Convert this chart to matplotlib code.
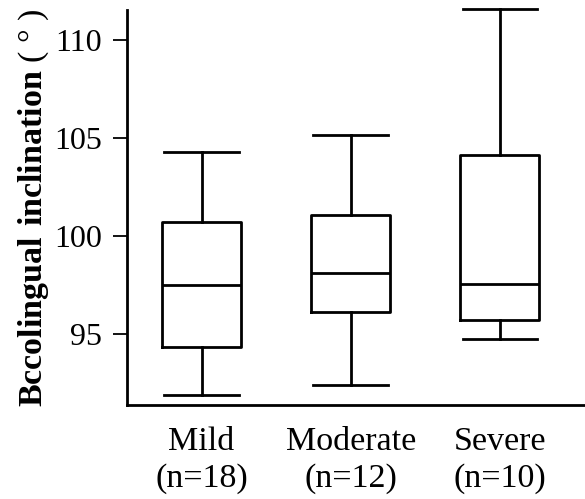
import matplotlib
matplotlib.use("Agg")
import matplotlib.pyplot as plt

groups = ["Mild\n(n=18)", "Moderate\n(n=12)", "Severe\n(n=10)"]
whislo = [91.85, 92.36, 94.71]
q1 = [94.30, 96.09, 95.69]
med = [97.47, 98.09, 97.53]
q3 = [100.70, 101.05, 104.12]
whishi = [104.27, 105.14, 111.58]

plt.rcParams['font.family'] = 'Liberation Serif'
plt.rcParams['mathtext.fontset'] = 'custom'
plt.rcParams['mathtext.rm'] = 'Liberation Serif'
plt.rcParams['mathtext.bf'] = 'Liberation Serif:bold'

stats = []
for i in range(len(groups)):
    stats.append({'label': groups[i], 'whislo': whislo[i], 'q1': q1[i], 'med': med[i],
                  'q3': q3[i], 'whishi': whishi[i], 'fliers': []})

fig = plt.figure(figsize=(5.85, 4.99), dpi=100)
ax = fig.add_axes([0.217, 0.188, 0.783, 0.792])

lw = 2.0
ax.bxp(stats, positions=[1, 2, 3], widths=0.53, capwidths=0.5, showfliers=False,
       boxprops=dict(color='black', linewidth=lw),
       medianprops=dict(color='black', linewidth=lw),
       whiskerprops=dict(color='black', linewidth=lw),
       capprops=dict(color='black', linewidth=lw))
for ln in ax.lines:
    ln.set_clip_on(False)

ax.set_xlim(0.5, 3.57)
ax.set_ylim(91.34, 111.53)
ax.set_yticks([95, 100, 105, 110])
ax.spines['top'].set_visible(False)
ax.spines['right'].set_visible(False)
ax.spines['left'].set_linewidth(2)
ax.spines['bottom'].set_linewidth(2)
ax.tick_params(axis='y', direction='out', length=10, width=1.3, pad=8, labelsize=23)
ax.tick_params(axis='x', length=0, pad=15, labelsize=24.5)
for t in ax.get_xticklabels():
    t.set_linespacing(1.3)

ax.set_ylabel(r"$\mathbf{Bccolingual\ inclination}$ ( ° )", fontsize=24.5, labelpad=2)

fig.savefig("out.png", dpi=100)
